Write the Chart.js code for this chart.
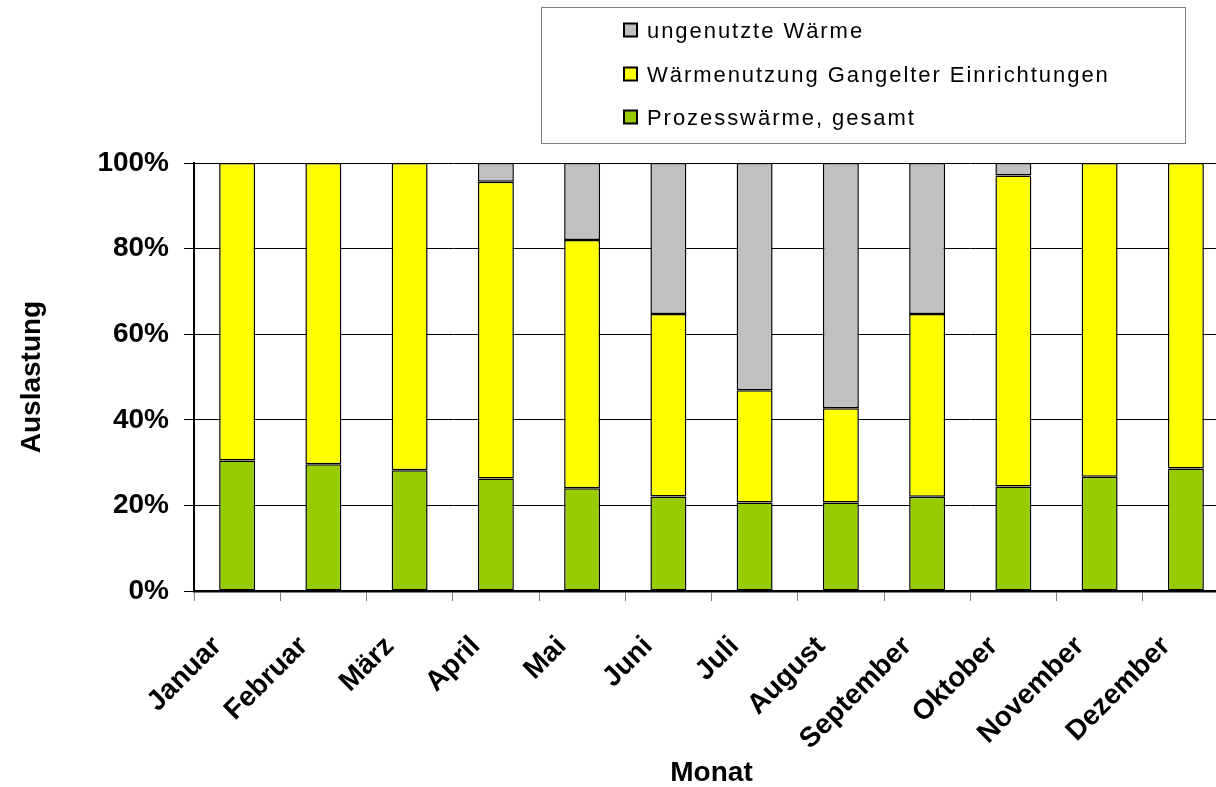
<!DOCTYPE html>
<html lang="de">
<head>
<meta charset="utf-8">
<title>Auslastung nach Monat</title>
<script src="https://cdn.jsdelivr.net/npm/chart.js@4.4.1/dist/chart.umd.min.js"></script>
<style>
  html, body { margin: 0; padding: 0; background: #fff; overflow: hidden; }
  #wrap { width: 1216px; height: 787px; overflow: hidden; }
  canvas { display: block; }
</style>
</head>
<body>
<div id="wrap"><canvas id="chart" width="1232" height="787"></canvas></div>
<script>
// Monatliche Auslastung der Wärme (Anteile in %)
const months = ['Januar', 'Februar', 'März', 'April', 'Mai', 'Juni', 'Juli', 'August', 'September', 'Oktober', 'November', 'Dezember'];
const prozesswaerme = [30.5, 29.6, 28.2, 26.3, 24.0, 22.1, 20.7, 20.7, 22.0, 24.4, 26.7, 28.6];
const waermenutzungGangelt = [69.5, 70.4, 71.8, 69.3, 58.0, 42.6, 26.2, 22.0, 42.7, 72.7, 73.3, 71.4];
const ungenutzteWaerme = [0, 0, 0, 4.4, 18.0, 35.3, 53.1, 57.3, 35.3, 2.9, 0, 0];
const yTicks = [0, 20, 40, 60, 80, 100];

const FONT = "'Liberation Sans', Arial, Helvetica, sans-serif";

// Boxed legend in the upper right, listed top-down in reverse stack order
const boxLegend = {
  id: 'boxLegend',
  afterDraw(chart) {
    const ctx = chart.ctx;
    const sets = chart.data.datasets.slice().reverse();
    ctx.save();
    ctx.strokeStyle = '#808080';
    ctx.lineWidth = 1;
    ctx.strokeRect(541.5, 7.5, 644, 136);
    ctx.font = '22px ' + FONT;
    ctx.textBaseline = 'middle';
    ctx.textAlign = 'left';
    if ('letterSpacing' in ctx) ctx.letterSpacing = '1.95px';
    const rows = [30.5, 74.5, 117.5];
    sets.forEach((ds, i) => {
      const cy = rows[i];
      ctx.fillStyle = ds.backgroundColor;
      ctx.fillRect(624, cy - 7, 13, 13);
      ctx.strokeStyle = '#000';
      ctx.lineWidth = 2;
      ctx.strokeRect(624, cy - 7, 13, 13);
      ctx.fillStyle = '#000';
      ctx.fillText(ds.label, 647, cy + 1);
    });
    ctx.restore();
  }
};

const ctx = document.getElementById('chart').getContext('2d');
new Chart(ctx, {
  type: 'bar',
  data: {
    labels: months,
    datasets: [
      { label: 'Prozesswärme, gesamt', data: prozesswaerme, backgroundColor: '#99CC00' },
      { label: 'Wärmenutzung Gangelter Einrichtungen', data: waermenutzungGangelt, backgroundColor: '#FFFF00' },
      { label: 'ungenutzte Wärme', data: ungenutzteWaerme, backgroundColor: '#C0C0C0' }
    ].map(d => Object.assign(d, {
      borderColor: '#000',
      borderWidth: 1.5,
      borderSkipped: false,
      categoryPercentage: 1,
      barPercentage: 0.417
    }))
  },
  options: {
    responsive: false,
    devicePixelRatio: 1,
    animation: false,
    layout: { padding: { top: 163, left: 0, right: 3, bottom: 0 } },
    plugins: {
      legend: { display: false },
      tooltip: { enabled: false }
    },
    scales: {
      x: {
        stacked: true,
        offset: true,
        grid: {
          offset: true,
          drawOnChartArea: false,
          drawTicks: true,
          tickLength: 10,
          color: '#808080',
          lineWidth: 1
        },
        border: { display: true, color: '#000', width: 2.5 },
        ticks: {
          color: '#000',
          font: { family: FONT, size: 28, weight: 'bold' },
          minRotation: 45,
          maxRotation: 45,
          autoSkip: false,
          padding: 29,
          labelOffset: -20
        },
        title: {
          display: true,
          text: 'Monat',
          color: '#000',
          font: { family: FONT, size: 28, weight: 'bold', lineHeight: 1 },
          padding: { top: 0, bottom: 0 }
        },
        afterFit(scale) {
          scale.height = 196;
          scale.paddingLeft = 0;
          scale.paddingRight = 0;
        }
      },
      y: {
        stacked: true,
        min: 0,
        max: 100,
        afterBuildTicks(scale) { scale.ticks = yTicks.map(v => ({ value: v })); },
        grid: {
          color: '#000',
          lineWidth: 1,
          drawTicks: true,
          tickLength: 10
        },
        border: { display: true, color: '#000', width: 2 },
        ticks: {
          color: '#000',
          font: { family: FONT, size: 28, weight: 'bold' },
          padding: 15,
          callback: v => v + '%'
        },
        title: {
          display: true,
          text: 'Auslastung',
          color: '#000',
          font: { family: FONT, size: 28, weight: 'bold', lineHeight: 1 },
          padding: { top: 18, bottom: 0 }
        },
        afterFit(scale) { scale.width = 194; }
      }
    }
  },
  plugins: [boxLegend]
});
</script>
</body>
</html>
